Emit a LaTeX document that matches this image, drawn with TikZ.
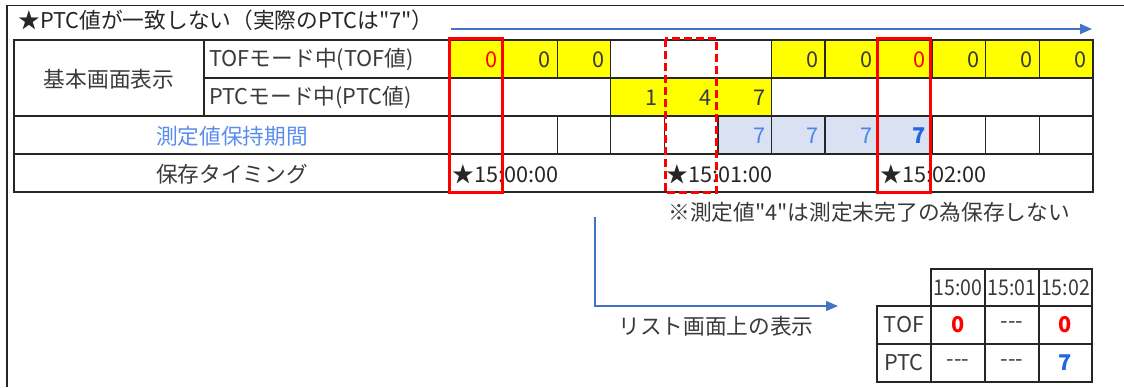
\documentclass[tikz,border=0pt]{standalone}
\usepackage{fontspec}
\setmainfont{Noto Sans CJK JP}[Ligatures=TeXOff]
\usetikzlibrary{arrows.meta}
\definecolor{txt}{HTML}{3A3A3A}
\definecolor{lblblue}{HTML}{5B8DEF}
\definecolor{numblue}{HTML}{4A86E8}
\definecolor{boldblue}{HTML}{1F66E0}
\definecolor{arrowblue}{HTML}{4472C4}
\definecolor{cellyellow}{HTML}{FFFF00}
\definecolor{cellblue}{HTML}{D9E1F2}
\definecolor{boxred}{HTML}{FF0000}
\definecolor{gridcol}{HTML}{262626}
\begin{document}
\begin{tikzpicture}[x=0.5pt,y=-0.5pt,
  font=\fontsize{10.85}{13}\selectfont,
  gridline/.style={draw=gridcol, line width=0.6pt},
  framelinestyle/.style={draw=gridcol, line width=0.8pt},
  txtnode/.style={inner sep=0pt, text=txt},
  num/.style={inner sep=0pt, anchor=east, text=txt},
  cnum/.style={inner sep=0pt, text=txt},
  redbox/.style={draw=boxred, line width=1.5pt},
  reddash/.style={draw=boxred, line width=1.5pt, dash pattern=on 4pt off 2pt},
  bluearrow/.style={draw=arrowblue, -{Triangle[length=6pt,width=5pt]}}]
\useasboundingbox (0,0) rectangle (1124,387);
\fill[white] (0,0) rectangle (1124,387);
% outer frame
\draw[framelinestyle] (7,387) -- (7,5.5) -- (1124,5.5);
% title
\node[txtnode, anchor=west, text=black!85] (title) at (18,20) {★PTC値が一致しない（実際のPTCは"7"）};
\coordinate (arrS) at (451,29);
\coordinate (arrE) at (1092,29);
\draw[bluearrow, line width=1pt] (arrS) -- (arrE);
% fills
\foreach \i in {0,1,2,6,7,8,9,10,11}
  \fill[cellyellow] ({450+53.58*\i},40) rectangle ({450+53.58*(\i+1)},78);
\fill[cellyellow] ({450+53.58*3},78) rectangle ({450+53.58*6},116);
\fill[cellblue] ({450+53.58*5},116) rectangle ({450+53.58*9},154);
% grid of main table
\draw[gridline] (14,40) rectangle (1093,192);
\draw[gridline] (204,78) -- (1093,78);
\draw[gridline] (14,116) -- (1093,116);
\draw[gridline] (14,154) -- (1093,154);
\draw[gridline] (204,40) -- (204,116);
\draw[gridline] (450,40) -- (450,192);
\foreach \k in {1,2,3,6,7,8,9,10,11}
  \draw[gridline] ({450+53.58*\k},40) -- ({450+53.58*\k},78);
\foreach \k in {3,6}
  \draw[gridline] ({450+53.58*\k},78) -- ({450+53.58*\k},116);
\foreach \k in {1,...,11}
  \draw[gridline] ({450+53.58*\k},116) -- ({450+53.58*\k},154);
% row labels
\node[txtnode] (kihon) at (109,79) {基本画面表示};
\node[txtnode, anchor=west] (toflbl) at (209,60) {TOFモード中(TOF値)};
\node[txtnode, anchor=west] (ptclbl) at (209,98) {PTCモード中(PTC値)};
\node[txtnode, text=lblblue] (sokutei) at (232,136) {測定値保持期間};
\node[txtnode] (hozon) at (232,174) {保存タイミング};
% TOF values
\foreach \i in {1,2,6,7,9,10,11}
  \node[num] (tof\i) at ({450+53.58*(\i+1)-6},60) {0};
\node[num, text=boxred] (tof0) at ({450+53.58*1-6},60) {0};
\node[num, text=boxred] (tof8) at ({450+53.58*9-6},60) {0};
% PTC values
\node[num] (ptc3) at ({450+53.58*4-6},98) {1};
\node[num] (ptc4) at ({450+53.58*5-6},98) {4};
\node[num] (ptc5) at ({450+53.58*6-6},98) {7};
% held values
\foreach \i in {5,6,7}
  \node[num, text=numblue] (hold\i) at ({450+53.58*(\i+1)-6},136) {7};
\node[num, text=boldblue, font=\fontsize{10.85}{13}\selectfont\bfseries] (hold8) at ({450+53.58*9-6},136) {7};
% save timings
\node[txtnode, anchor=west, text=black!85] (time0) at (452,174) {★15:00:00};
\node[txtnode, anchor=west, text=black!85] (time1) at (666,174) {★15:01:00};
\node[txtnode, anchor=west, text=black!85] (time2) at (880,174) {★15:02:00};
% highlight boxes
\draw[redbox] (449,38.5) rectangle (502,192.5);
\draw[redbox] (877.5,38.5) rectangle (930.5,192.5);
\draw[reddash] (665,38.5) rectangle (716.5,192.5);
% note
\node[txtnode, anchor=west] (note) at (668,212) {※測定値"4"は測定未完了の為保存しない};
% L arrow
\coordinate (Ltop) at (595,217);
\coordinate (Lcorner) at (595,306);
\coordinate (Lend) at (838,306);
\draw[bluearrow, line width=0.6pt] (Ltop) -- (Lcorner) -- (Lend);
\node[txtnode] (listlbl) at (716,326) {リスト画面上の表示};
% small table
\draw[gridline] (931,269) rectangle (1092,382);
\draw[gridline] (877,306) rectangle (1092,382);
\draw[gridline] (877,344) -- (1092,344);
\draw[gridline] (985,269) -- (985,382);
\draw[gridline] (1039,269) -- (1039,382);
\node[cnum] (h0) at (958,288) {\scalebox{0.9}[1]{15:00}};
\node[cnum] (h1) at (1012,288) {\scalebox{0.9}[1]{15:01}};
\node[cnum] (h2) at (1065.5,288) {\scalebox{0.9}[1]{15:02}};
\node[cnum] (rtof) at (904,325) {TOF};
\node[cnum] (rptc) at (904,363) {PTC};
\node[cnum, text=boxred, font=\fontsize{10.85}{13}\selectfont\bfseries] (s00) at (958,325) {0};
\node[cnum] (s01) at (1012,325) {{-}{-}{-}};
\node[cnum, text=boxred, font=\fontsize{10.85}{13}\selectfont\bfseries] (s02) at (1065.5,325) {0};
\node[cnum] (s10) at (958,363) {{-}{-}{-}};
\node[cnum] (s11) at (1012,363) {{-}{-}{-}};
\node[cnum, text=boldblue, font=\fontsize{10.85}{13}\selectfont\bfseries] (s12) at (1065.5,363) {7};
\end{tikzpicture}
\end{document}
